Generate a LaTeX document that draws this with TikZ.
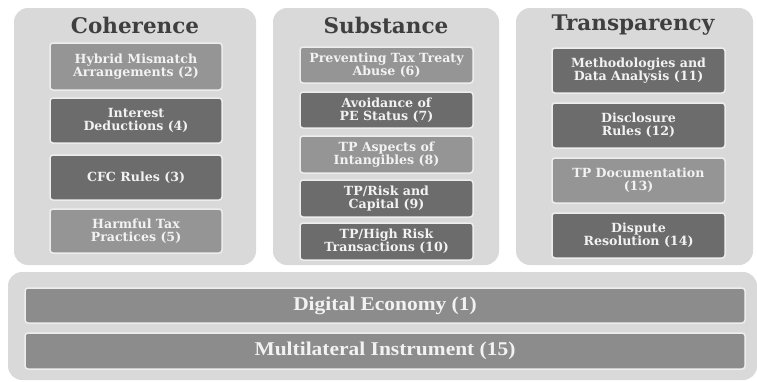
\documentclass[tikz,border=0pt]{standalone}
\usepackage{fontspec}
\setmainfont{Liberation Serif}
\newfontfamily\boxfont{DejaVu Serif}
\definecolor{panelgray}{HTML}{D9D9D9}
\definecolor{darkbox}{HTML}{6C6C6C}
\definecolor{lightbox}{HTML}{959595}
\definecolor{barbox}{HTML}{8C8C8C}
\definecolor{titlegray}{HTML}{3F3F3F}
\definecolor{boxedge}{HTML}{EDEDED}
\definecolor{boxtext}{HTML}{F2F2F2}
\begin{document}
\begin{tikzpicture}[x=1pt,y=-1pt,
  panel/.style={fill=panelgray, draw=none, rounded corners=14pt},
  item/.style={draw=boxedge, line width=1.5pt, rounded corners=3pt, text=boxtext,
    font=\boxfont\bfseries\fontsize{12.6}{13.2}\selectfont, align=center, inner sep=0pt},
  dk/.style={item, fill=darkbox},
  lt/.style={item, fill=lightbox},
  bar/.style={item, fill=barbox},
  bartext/.style={text=boxtext, font=\bfseries\fontsize{19.5}{21}\selectfont, xscale=1.1, inner sep=0pt},
  ptitle/.style={text=titlegray, font=\boxfont\bfseries\fontsize{21.5}{24}\selectfont, inner sep=0pt}
]
\useasboundingbox (0,0) rectangle (757,381);
\fill[white] (0,0) rectangle (757,381);
% panels
\path[panel] (14,8) rectangle (256,265);
\path[panel] (273,8) rectangle (499,265);
\path[panel] (516,8) rectangle (753,265);
\path[panel] (8,272) rectangle (757,380);
% titles
\node[ptitle] (tcoh) at (135,25) {Coherence};
\node[ptitle] (tsub) at (386,25) {Substance};
\node[ptitle] (ttra) at (633,25) {Transparency};
% Coherence
\path[lt] (50,43) rectangle node (h2) {Hybrid Mismatch\\Arrangements (2)} (222,90);
\path[dk] (50,98) rectangle node (i4) {Interest\\Deductions (4)} (222,143);
\path[dk] (50,155) rectangle node (c3) {CFC Rules (3)} (222,200);
\path[lt] (50,209) rectangle node (h5) {Harmful Tax\\Practices (5)} (222,253);
% Substance
\path[lt] (300,47) rectangle node (p6) {Preventing Tax Treaty\\Abuse (6)} (473,83);
\path[dk] (300,92) rectangle node (a7) {Avoidance of\\PE Status (7)} (473,128);
\path[lt] (300,136) rectangle node (t8) {TP Aspects of\\Intangibles (8)} (473,173);
\path[dk] (300,180) rectangle node (r9) {TP/Risk and\\Capital (9)} (473,217);
\path[dk] (300,223) rectangle node (h10) {TP/High Risk\\Transactions (10)} (473,260);
% Transparency
\path[dk] (552,48) rectangle node (m11) {Methodologies and\\Data Analysis (11)} (725,93);
\path[dk] (552,103) rectangle node (d12) {Disclosure\\Rules (12)} (725,148);
\path[lt] (552,158) rectangle node (t13) {TP Documentation\\(13)} (725,203);
\path[dk] (552,213) rectangle node (d14) {Dispute\\Resolution (14)} (725,258);
% bottom bars
\path[bar] (25,288) rectangle (745,323);
\node[bartext] (de1) at (385,305.5) {Digital Economy (1)};
\path[bar] (25,333) rectangle (745,369);
\node[bartext] (mi15) at (385,351) {Multilateral Instrument (15)};
\end{tikzpicture}
\end{document}
